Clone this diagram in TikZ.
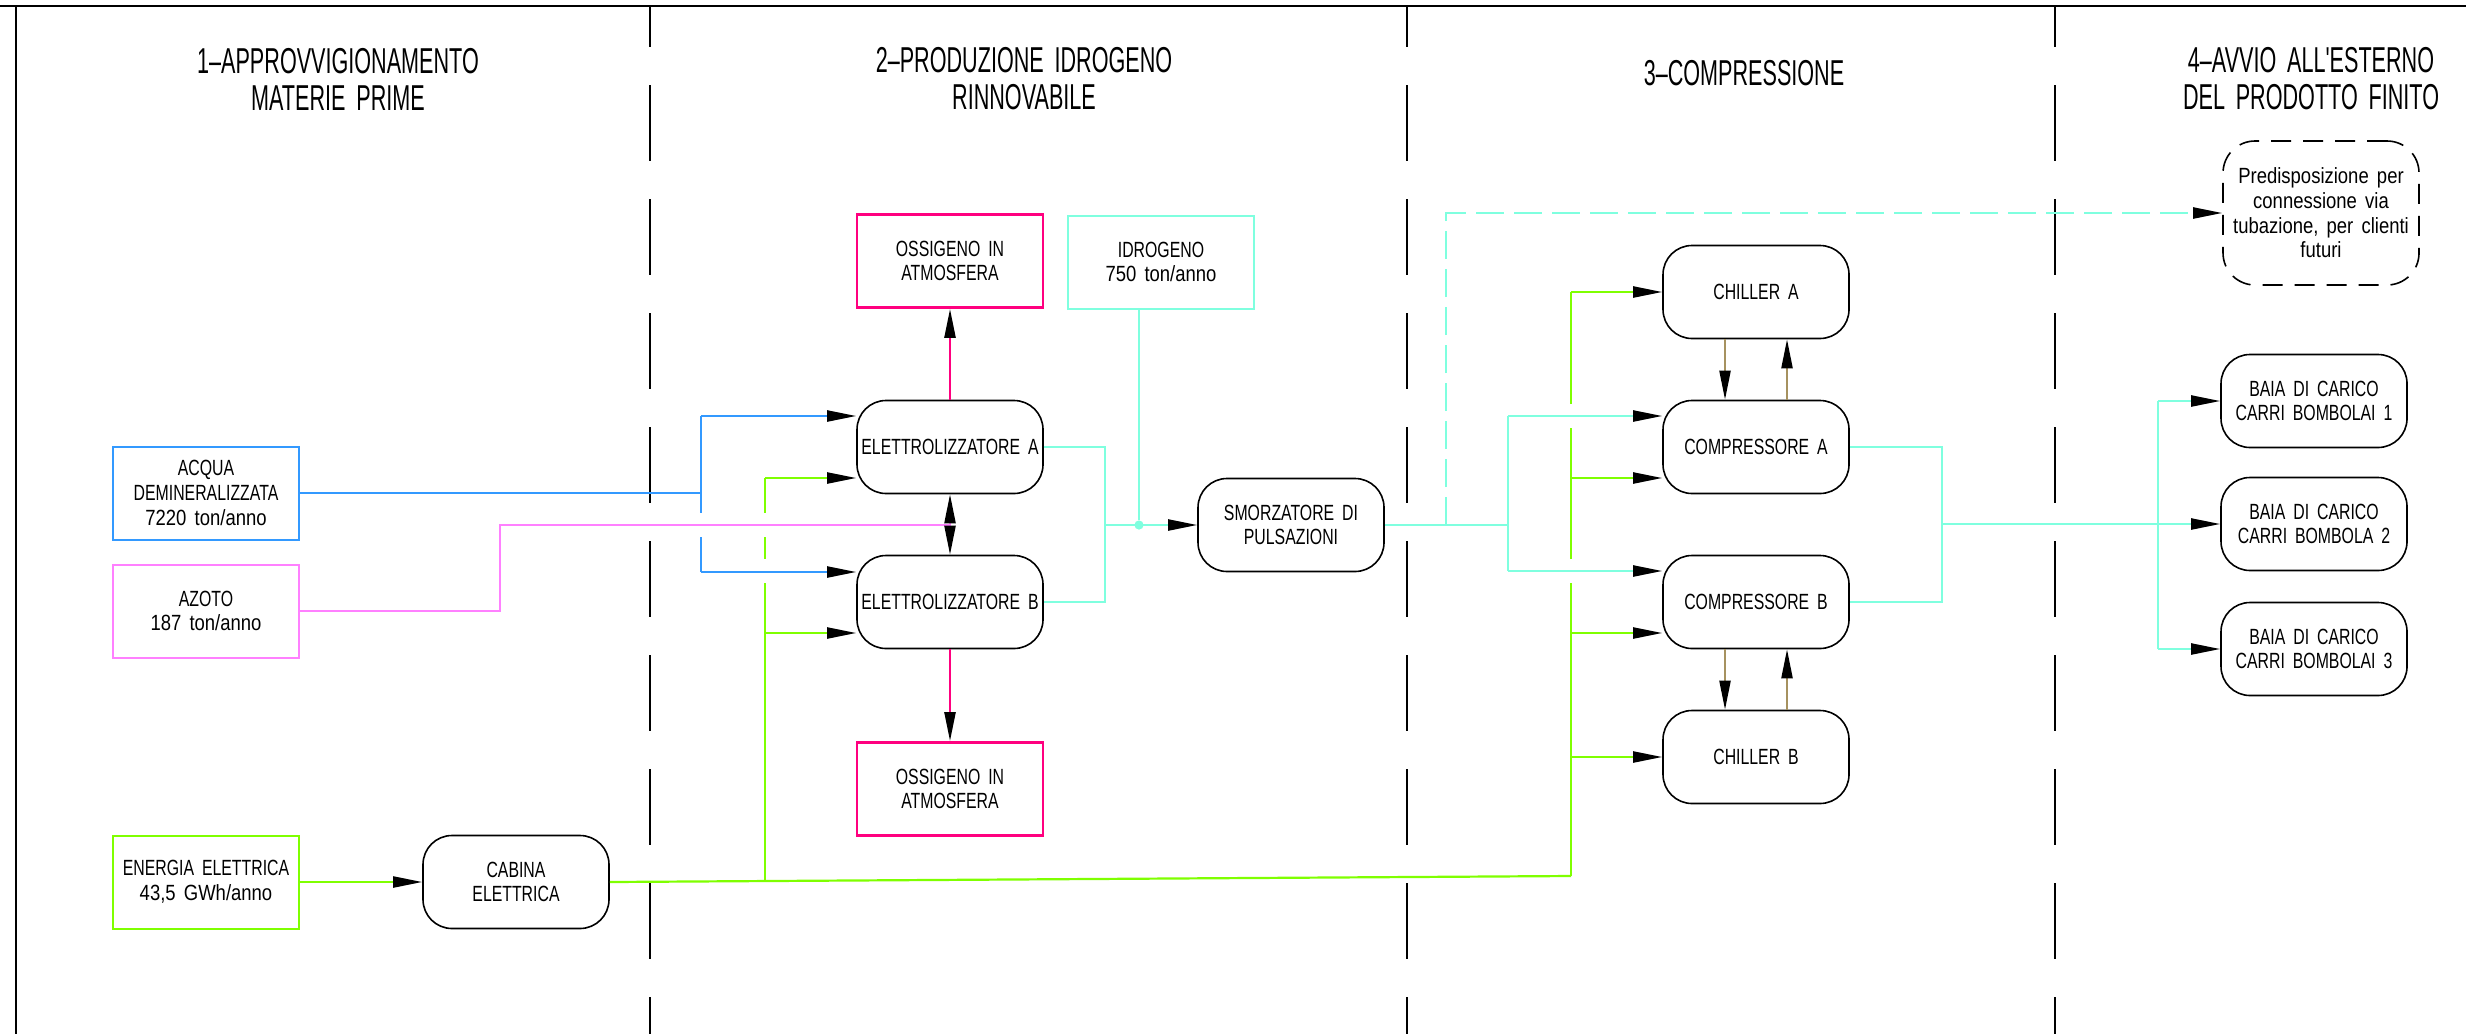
\documentclass[tikz,border=0pt]{standalone}
\usepackage{fontspec}
\setmainfont{Liberation Sans}[FakeStretch=0.72,WordSpace=1.8]
\newfontfamily\mytitlefamily{Liberation Sans}[FakeStretch=0.6,WordSpace=1.8]
\newfontfamily\mylcfamily{Liberation Sans}[FakeStretch=0.84,WordSpace=1.6]
\usetikzlibrary{arrows.meta,calc}
\definecolor{blueA}{RGB}{51,153,255}
\definecolor{pinkN}{RGB}{255,128,255}
\definecolor{magO}{RGB}{255,0,127}
\definecolor{cyanH}{RGB}{127,255,223}
\definecolor{greenE}{RGB}{127,255,0}
\definecolor{brownC}{RGB}{166,146,96}
\newcommand\myboxfont{\fontsize{11}{12.3}\selectfont}
\newcommand\mytitlefont{\mytitlefamily\fontsize{18}{18.5}\selectfont}
\newcommand\lcx[1]{{\mylcfamily #1}}
\tikzset{
  every node/.style={inner sep=0pt, align=center, font=\myboxfont},
  sq/.style={draw, rectangle, minimum width=93pt, minimum height=46.5pt, line width=1pt},
  rb/.style={draw=black, rectangle, rounded corners=14.5pt, minimum width=93pt, minimum height=46.5pt, line width=0.8pt},
  ttl/.style={font=\mytitlefont},
  sepline/.style={line width=1pt, dash pattern=on 38pt off 19pt, dash phase=17.5pt},
  wb/.style={draw=blueA, line width=1.1pt},
  wp/.style={draw=pinkN, line width=1.1pt},
  wg/.style={draw=greenE, line width=1.1pt},
  wm/.style={draw=magO, line width=1.2pt},
  wc/.style={draw=cyanH, line width=1.1pt},
  wr/.style={draw=brownC, line width=1.1pt},
}
\begin{document}
\begin{tikzpicture}[x=0.5pt,y=-0.5pt,>={Triangle[length=14.5pt,width=5.5pt,color=black]}]
\useasboundingbox (0,0) rectangle (2466,1034);
% frame
\draw[line width=1.2pt] (0,6) -- (2466,6);
\draw[line width=1.2pt] (16,6) -- (16,1034);
% separators
\foreach \x in {650,1407,2055} \draw[sepline] (\x,6) -- (\x,1034);
% titles
\node[ttl] (t1) at (338,79) {1–APPROVVIGIONAMENTO\\MATERIE PRIME};
\node[ttl] (t2) at (1024,79) {2–PRODUZIONE IDROGENO\\RINNOVABILE};
\node[ttl] (t3) at (1744,73) {3–COMPRESSIONE};
\node[ttl] (t4) at (2311,79) {4–AVVIO ALL'ESTERNO\\DEL PRODOTTO FINITO};
% boxes
\node[sq, draw=blueA] (acq) at (206,493) {ACQUA\\DEMINERALIZZATA\\\lcx{7220 ton/anno}};
\node[sq, draw=pinkN] (azo) at (206,611) {AZOTO\\\lcx{187 ton/anno}};
\node[sq, draw=greenE] (ene) at (206,882) {ENERGIA ELETTRICA\\\lcx{43,5 GWh/anno}};
\node[rb] (cab) at (516,882) {CABINA\\ELETTRICA};
\node[sq, draw=magO, line width=1.4pt] (oxT) at (950,261) {OSSIGENO IN\\ATMOSFERA};
\node[sq, draw=cyanH] (idr) at (1161,262) {IDROGENO\\\lcx{750 ton/anno}};
\node[rb] (elA) at (950,447) {ELETTROLIZZATORE A};
\node[rb] (elB) at (950,602) {ELETTROLIZZATORE B};
\node[sq, draw=magO, line width=1.4pt] (oxB) at (950,789) {OSSIGENO IN\\ATMOSFERA};
\node[rb] (smz) at (1291,525) {SMORZATORE DI\\PULSAZIONI};
\node[rb] (chA) at (1756,292) {CHILLER A};
\node[rb] (cpA) at (1756,447) {COMPRESSORE A};
\node[rb] (cpB) at (1756,602) {COMPRESSORE B};
\node[rb] (chB) at (1756,757) {CHILLER B};
\node[rb, rounded corners=16pt, minimum width=98pt, minimum height=72pt, dash pattern=on 10pt off 6pt, font=\myboxfont\mylcfamily] (pre) at (2321,213) {Predisposizione per\\connessione via\\tubazione, per clienti\\futuri};
\node[rb] (b1) at (2314,401) {BAIA DI CARICO\\CARRI BOMBOLAI 1};
\node[rb] (b2) at (2314,524) {BAIA DI CARICO\\CARRI BOMBOLA 2};
\node[rb] (b3) at (2314,649) {BAIA DI CARICO\\CARRI BOMBOLAI 3};
% junction coordinates
\coordinate (bT) at (701,416); \coordinate (bM) at (701,493); \coordinate (bB) at (701,572);
\coordinate (pJ) at (950,525);
\coordinate (gT) at (765,478); \coordinate (gE) at (765,633); \coordinate (gB) at (765,882);
\coordinate (gR) at (1571,876);
\coordinate (hT) at (1571,292); \coordinate (hA) at (1571,478); \coordinate (hB) at (1571,633); \coordinate (hC) at (1571,757);
\coordinate (cA) at (1105,447); \coordinate (cB) at (1105,602); \coordinate (cM) at (1105,525);
\node[circle, fill=cyanH, minimum size=4.6pt] (dot) at (1139,525) {};
\coordinate (sJ) at (1508,525); \coordinate (sT) at (1508,416); \coordinate (sB) at (1508,571);
\coordinate (dJ) at (1446,525); \coordinate (dT) at (1446,213);
\coordinate (kA) at (1942,447); \coordinate (kB) at (1942,602); \coordinate (kM) at (1942,524);
\coordinate (mT) at (2158,401); \coordinate (mB) at (2158,649);
% blue (water)
\draw[wb] (acq.east) -- (bM);
\draw[wb] (bT) -- (701,513);
\draw[wb] (701,537) -- (bB);
\draw[wb,->] (bT) -- (elA.west |- bT);
\draw[wb,->] (bB) -- (elB.west |- bB);
% pink (nitrogen)
\draw[wp] (azo.east) -| (500,525) -- (pJ);
\draw[wp,->] (pJ) -- (elA.south);
\draw[wp,->] (pJ) -- (elB.north);
% green (power)
\draw[wg,->] (ene.east) -- (cab.west);
\draw[wg] (cab.east) -- (gR);
\draw[wg] (gT) -- (765,513);
\draw[wg] (765,537) -- (765,559);
\draw[wg] (765,583) -- (gB);
\draw[wg,->] (gT) -- (elA.west |- gT);
\draw[wg,->] (gE) -- (elB.west |- gE);
\draw[wg] (gR) -- (1571,583);
\draw[wg] (1571,559) -- (1571,428);
\draw[wg] (1571,404) -- (hT);
\draw[wg,->] (hT) -- (chA.west);
\draw[wg,->] (hA) -- (cpA.west |- hA);
\draw[wg,->] (hB) -- (cpB.west |- hB);
\draw[wg,->] (hC) -- (chB.west);
% magenta (oxygen)
\draw[wm,->] (elA.north) -- (oxT.south);
\draw[wm,->] (elB.south) -- (oxB.north);
% cyan (hydrogen)
\draw[wc] (elA.east) -- (cA) -- (cB) -- (elB.east);
\draw[wc,->] (cM) -- (smz.west);
\draw[wc] ([xshift=-11pt]idr.south) -- (dot);
\draw[wc] (smz.east) -- (sJ);
\draw[wc] (sT) -- (sB);
\draw[wc,->] (sT) -- (cpA.west |- sT);
\draw[wc,->] (sB) -- (cpB.west |- sB);
\draw[wc, dash pattern=on 14pt off 5pt, ->] (dJ) -- (dT) -- (pre.west);
\draw[wc] (cpA.east) -- (kA) -- (kB) -- (cpB.east);
\draw[wc,->] (kM) -- (b2.west);
\draw[wc] (mT) -- (mB);
\draw[wc,->] (mT) -- (b1.west);
\draw[wc,->] (mB) -- (b3.west);
% brown (cooling)
\draw[wr,->] ([xshift=-15.5pt]chA.south) -- ([xshift=-15.5pt]cpA.north);
\draw[wr,->] ([xshift=15.5pt]cpA.north) -- ([xshift=15.5pt]chA.south);
\draw[wr,->] ([xshift=-15.5pt]cpB.south) -- ([xshift=-15.5pt]chB.north);
\draw[wr,->] ([xshift=15.5pt]chB.north) -- ([xshift=15.5pt]cpB.south);
\end{tikzpicture}
\end{document}
